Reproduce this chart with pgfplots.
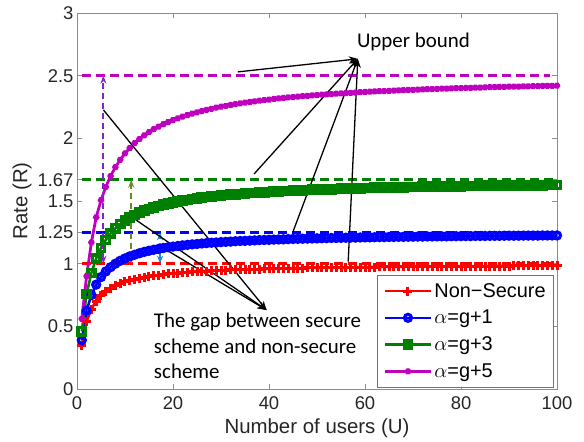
\documentclass[border=0pt]{standalone}
\usepackage{fontspec}
\setmainfont{Liberation Sans}
\newfontfamily\calibri{Carlito}
\usepackage{pgfplots}
\usepackage{pgfplotstable}
\pgfplotsset{compat=1.18}
\usetikzlibrary{arrows.meta}
\definecolor{cred}{rgb}{1,0,0}
\definecolor{cblue}{rgb}{0,0,1}
\definecolor{cgreen}{rgb}{0,0.5,0}
\definecolor{cmag}{rgb}{0.75,0,0.75}
\definecolor{cpurp}{rgb}{0.50,0.15,0.80}
\definecolor{colive}{rgb}{0.40,0.55,0.18}
\definecolor{clblue}{rgb}{0.10,0.55,0.85}

\pgfplotstableread{
U ns a1 a3 a5
1 0.350 0.390 0.460 0.560
2 0.541 0.625 0.758 0.900
3 0.638 0.750 0.926 1.170
4 0.702 0.833 1.042 1.370
5 0.746 0.893 1.126 1.506
6 0.779 0.938 1.190 1.613
7 0.805 0.972 1.241 1.699
8 0.825 1.000 1.282 1.770
9 0.841 1.023 1.316 1.829
10 0.855 1.042 1.344 1.880
11 0.866 1.058 1.368 1.923
12 0.876 1.071 1.389 1.961
13 0.884 1.083 1.407 1.994
14 0.892 1.094 1.423 2.023
15 0.898 1.103 1.437 2.049
16 0.904 1.111 1.449 2.073
17 0.909 1.118 1.460 2.094
18 0.914 1.125 1.471 2.113
19 0.918 1.131 1.480 2.130
20 0.922 1.136 1.488 2.146
21 0.925 1.141 1.496 2.160
22 0.928 1.146 1.503 2.174
23 0.931 1.150 1.509 2.186
24 0.934 1.154 1.515 2.198
25 0.936 1.157 1.521 2.208
26 0.939 1.161 1.526 2.218
27 0.941 1.164 1.531 2.228
28 0.943 1.167 1.535 2.236
29 0.945 1.169 1.539 2.245
30 0.946 1.172 1.543 2.252
31 0.948 1.174 1.547 2.259
32 0.950 1.176 1.550 2.266
33 0.951 1.179 1.554 2.273
34 0.952 1.181 1.557 2.279
35 0.954 1.182 1.560 2.285
36 0.955 1.184 1.563 2.290
37 0.956 1.186 1.565 2.295
38 0.957 1.188 1.568 2.300
39 0.958 1.189 1.570 2.305
40 0.959 1.190 1.572 2.309
41 0.960 1.192 1.575 2.314
42 0.961 1.193 1.577 2.318
43 0.962 1.194 1.579 2.322
44 0.963 1.196 1.580 2.326
45 0.964 1.197 1.582 2.329
46 0.964 1.198 1.584 2.333
47 0.965 1.199 1.586 2.336
48 0.966 1.200 1.587 2.339
49 0.966 1.201 1.589 2.342
50 0.967 1.202 1.590 2.345
51 0.968 1.203 1.592 2.348
52 0.968 1.204 1.593 2.351
53 0.969 1.205 1.594 2.353
54 0.969 1.205 1.596 2.356
55 0.970 1.206 1.597 2.358
56 0.971 1.207 1.598 2.361
57 0.971 1.208 1.599 2.363
58 0.972 1.208 1.600 2.365
59 0.972 1.209 1.601 2.368
60 0.972 1.210 1.603 2.370
61 0.973 1.210 1.604 2.372
62 0.973 1.211 1.605 2.374
63 0.974 1.212 1.606 2.376
64 0.974 1.212 1.606 2.377
65 0.975 1.213 1.607 2.379
66 0.975 1.213 1.608 2.381
67 0.975 1.214 1.609 2.383
68 0.976 1.214 1.610 2.384
69 0.976 1.215 1.611 2.386
70 0.976 1.215 1.611 2.387
71 0.977 1.216 1.612 2.389
72 0.977 1.216 1.613 2.390
73 0.977 1.217 1.614 2.392
74 0.978 1.217 1.614 2.393
75 0.978 1.218 1.615 2.395
76 0.978 1.218 1.616 2.396
77 0.978 1.218 1.616 2.397
78 0.979 1.219 1.617 2.399
79 0.979 1.219 1.618 2.400
80 0.979 1.220 1.618 2.401
81 0.979 1.220 1.619 2.402
82 0.980 1.220 1.619 2.403
83 0.980 1.221 1.620 2.404
84 0.980 1.221 1.620 2.405
85 0.980 1.221 1.621 2.407
86 0.981 1.222 1.621 2.408
87 0.981 1.222 1.622 2.409
88 0.981 1.222 1.622 2.410
89 0.981 1.223 1.623 2.411
90 0.981 1.223 1.623 2.412
91 0.982 1.223 1.624 2.413
92 0.982 1.223 1.624 2.413
93 0.982 1.224 1.625 2.414
94 0.982 1.224 1.625 2.415
95 0.982 1.224 1.626 2.416
96 0.983 1.224 1.626 2.417
97 0.983 1.225 1.626 2.418
98 0.983 1.225 1.627 2.419
99 0.983 1.225 1.627 2.419
100 0.983 1.225 1.628 2.420
}\data

\begin{document}
\begin{tikzpicture}
\useasboundingbox (-77bp,-53bp) rectangle (507bp,389bp);
\begin{axis}[
  at={(0,0)}, anchor=south west,
  scale only axis, width=480bp, height=376bp,
  xmin=0, xmax=100, ymin=0, ymax=3,
  xtick={0,20,40,60,80,100},
  ytick={0,0.5,1,1.25,1.5,1.67,2,2.5,3},
  yticklabels={0,0.5,1,1.25,1.5,1.67,2,2.5,3},
  tick align=inside,
  major tick length=5bp,
  axis line style={black!45, line width=0.6bp},
  every tick/.style={black!45, line width=0.6bp},
  tick label style={font=\fontsize{18.5}{22}\selectfont, text=black!85},
  /pgf/number format/assume math mode=true,
  xticklabel style={yshift=-4bp},
  xlabel={Number of users (U)}, ylabel={Rate (R)},
  label style={font=\fontsize{20.5}{24}\selectfont, text=black!85},
  xlabel style={at={(axis description cs:0.5,-0.1037)}, anchor=center},
  ylabel style={at={(axis description cs:-0.1146,0.5)}, anchor=center},
  clip=false,
  legend cell align=left,
  legend style={at={(rel axis cs:1,0)}, anchor=south east, xshift=-3bp, yshift=1.7bp,
    draw=black!55, line width=0.6bp, font=\fontsize{20}{24}\selectfont,
    inner xsep=6bp, inner ysep=6bp, row sep=7.5bp},
  legend image code/.code={\draw[mark repeat=2,mark phase=2,#1] plot coordinates {(0bp,0bp) (23bp,0bp) (46bp,0bp)};},
]
% upper bounds
\addplot[forget plot, cmag, line width=3bp, dash pattern=on 9bp off 5bp] coordinates {(1,2.5) (98.5,2.5)};
\addplot[forget plot, cgreen, line width=3bp, dash pattern=on 9bp off 5bp] coordinates {(1,1.67) (100,1.67)};
\addplot[forget plot, cblue, line width=3bp, dash pattern=on 9bp off 5bp] coordinates {(1,1.25) (100,1.25)};
\addplot[forget plot, cred, line width=3bp, dash pattern=on 9bp off 5bp] coordinates {(1,1) (100,1)};
% curves
\addplot[cred, line width=2.6bp, mark=+, mark size=4.5bp, mark options={solid, line width=3bp}] table[x=U, y=ns] {\data};
\addlegendentry{Non−Secure}
\addplot[cblue, line width=2.6bp, mark=o, mark size=3.5bp, mark options={solid, line width=3.2bp}] table[x=U, y=a1] {\data};
\addlegendentry{$\alpha$=g+1}
\addplot[cgreen, line width=2.6bp, mark=square, mark size=3.6bp, mark options={solid, line width=3.5bp}] table[x=U, y=a3] {\data};
\addlegendentry{$\alpha$=g+3}
\addplot[cmag, line width=2.8bp, mark=asterisk, mark size=3bp, mark options={solid, line width=3bp}] table[x=U, y=a5] {\data};
\addlegendentry{$\alpha$=g+5}
% gap arrows
\draw[cpurp, line width=1.8bp, dash pattern=on 6bp off 4bp, {Stealth[length=8bp,width=6bp]}-{Stealth[length=8bp,width=6bp]}] (axis cs:5.5,1) -- (axis cs:5.5,2.5);
\draw[colive, line width=1.8bp, dash pattern=on 6bp off 4bp, {Stealth[length=8bp,width=6bp]}-{Stealth[length=8bp,width=6bp]}] (axis cs:11.3,1) -- (axis cs:11.3,1.67);
\draw[clblue, line width=1.8bp, dash pattern=on 6bp off 4bp, {Stealth[length=8bp,width=6bp]}-{Stealth[length=8bp,width=6bp]}] (axis cs:17.3,1) -- (axis cs:17.3,1.25);
% annotation lines
\draw[black, line width=1.3bp, -{Stealth[length=9bp,width=7bp]}] (axis cs:5.5,2.227) -- (axis cs:39.5,0.63);
\draw[black, line width=1.3bp, -{Stealth[length=9bp,width=7bp]}] (axis cs:11.3,1.375) -- (axis cs:39.5,0.63);
\draw[black, line width=1.3bp, -{Stealth[length=9bp,width=7bp]}] (axis cs:17.3,1.14) -- (axis cs:39.5,0.63);
\draw[black, line width=1.3bp, -{Stealth[length=9bp,width=7bp]}] (axis cs:33.5,2.53) -- (axis cs:58.5,2.634);
\draw[black, line width=1.3bp, -{Stealth[length=9bp,width=7bp]}] (axis cs:36.9,1.716) -- (axis cs:58.5,2.634);
\draw[black, line width=1.3bp, -{Stealth[length=9bp,width=7bp]}] (axis cs:45,1.255) -- (axis cs:58.5,2.634);
\draw[black, line width=1.3bp, -{Stealth[length=9bp,width=7bp]}] (axis cs:56.5,1.016) -- (axis cs:58.5,2.634);
% texts
\node[anchor=base west, inner sep=0pt, font={\calibri\fontsize{21}{25}\selectfont}] at (axis cs:58.3,2.725) {Upper bound};
\node[anchor=base west, inner sep=0pt, font={\calibri\fontsize{21}{25}\selectfont}] at (axis cs:16,0.487) {The gap between secure};
\node[anchor=base west, inner sep=0pt, font={\calibri\fontsize{21}{25}\selectfont}] at (axis cs:16,0.287) {scheme and non-secure};
\node[anchor=base west, inner sep=0pt, font={\calibri\fontsize{21}{25}\selectfont}] at (axis cs:16,0.087) {scheme};
\end{axis}
\end{tikzpicture}
\end{document}
